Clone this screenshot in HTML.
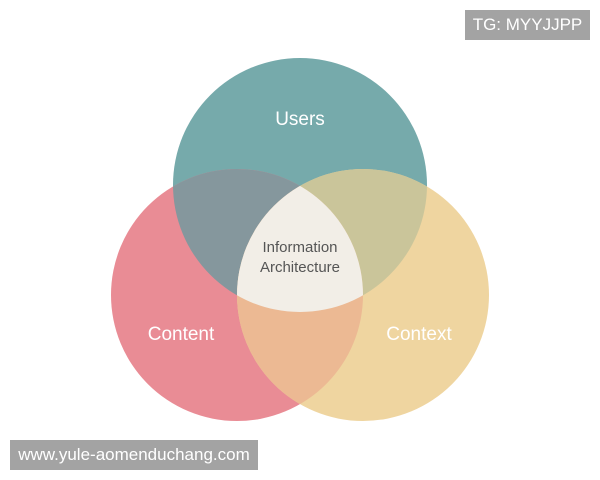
<!DOCTYPE html>
<html><head><style>
html,body{margin:0;padding:0;background:#fff;}
body{width:600px;height:480px;position:relative;overflow:hidden;font-family:"Liberation Sans",sans-serif;}
.tag{position:absolute;background:#a3a3a3;color:#fff;font-size:17px;line-height:30px;}
</style></head><body>
<svg width="600" height="480" style="position:absolute;left:0;top:0">
<defs>
<clipPath id="cu"><circle cx="300" cy="185" r="127"/></clipPath>
<clipPath id="cc"><circle cx="237" cy="295" r="126"/></clipPath>
<clipPath id="cx"><circle cx="363" cy="295" r="126"/></clipPath>
</defs>
<circle cx="300" cy="185" r="127" fill="#76aaab"/>
<circle cx="237" cy="295" r="126" fill="#e98c95"/>
<circle cx="363" cy="295" r="126" fill="#efd5a0"/>
<circle cx="237" cy="295" r="126" fill="#85979d" clip-path="url(#cu)"/>
<circle cx="363" cy="295" r="126" fill="#cac59a" clip-path="url(#cu)"/>
<circle cx="363" cy="295" r="126" fill="#ecb993" clip-path="url(#cc)"/>
<g clip-path="url(#cu)"><circle cx="363" cy="295" r="126" fill="#f2eee7" clip-path="url(#cc)"/></g>
<text x="300" y="125" fill="#fff" font-size="19" text-anchor="middle" font-family="Liberation Sans">Users</text>
<text x="181" y="340" fill="#fff" font-size="19" text-anchor="middle" font-family="Liberation Sans">Content</text>
<text x="419" y="340" fill="#fff" font-size="19" text-anchor="middle" font-family="Liberation Sans">Context</text>
<text x="300" y="252" fill="#555" font-size="15" text-anchor="middle" font-family="Liberation Sans">Information</text>
<text x="300" y="272" fill="#555" font-size="15" text-anchor="middle" font-family="Liberation Sans">Architecture</text>
</svg>
<div class="tag" style="left:465px;top:10px;width:125px;text-align:center">TG: MYYJJPP</div>
<div class="tag" style="left:10px;top:440px;width:248px;text-align:center">www.yule-aomenduchang.com</div>
</body></html>
